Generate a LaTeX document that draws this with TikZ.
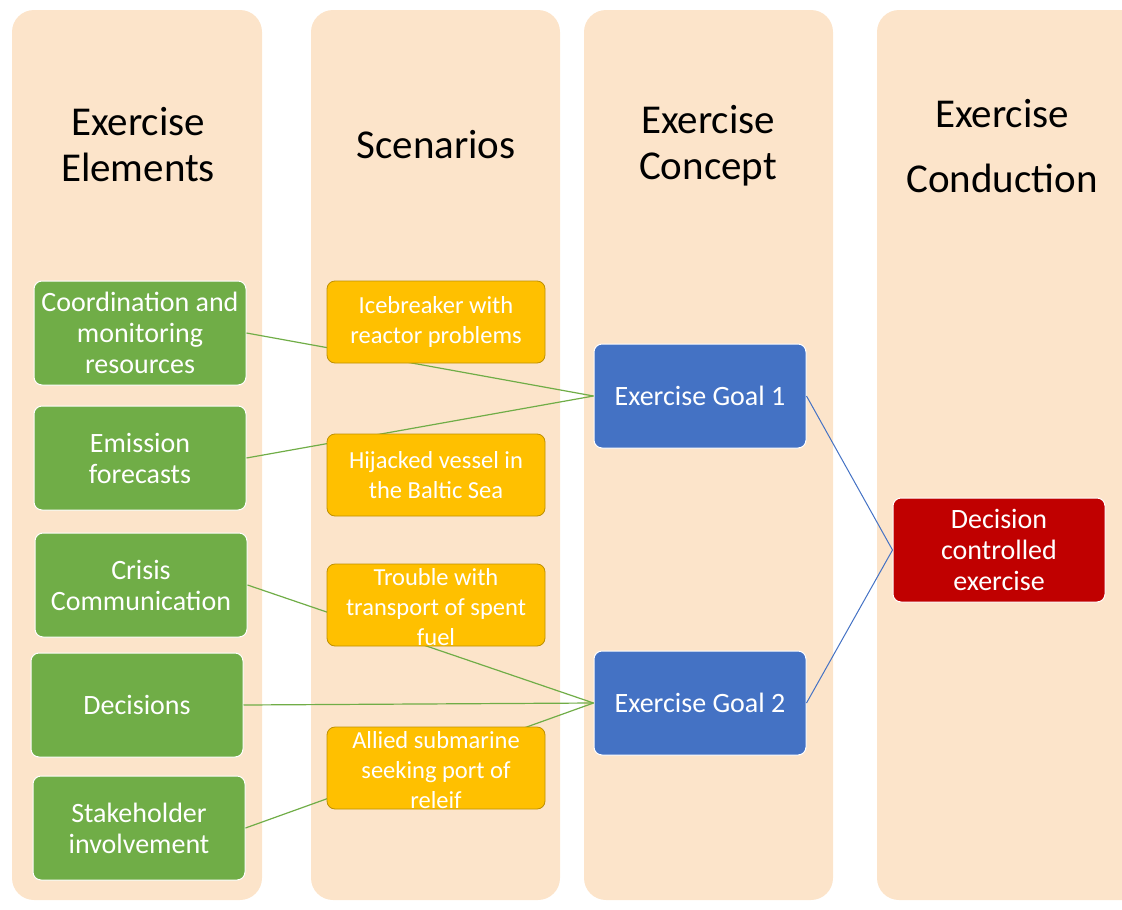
\documentclass[tikz,border=0pt]{standalone}
\usepackage{fontspec}
\setmainfont{Carlito}
\definecolor{colbg}{RGB}{252,228,202}
\definecolor{elemgreen}{RGB}{112,173,71}
\definecolor{scengold}{RGB}{255,192,0}
\definecolor{scenedge}{RGB}{191,144,0}
\definecolor{goalblue}{RGB}{68,114,196}
\definecolor{condred}{RGB}{192,0,0}
\begin{document}
\begin{tikzpicture}[x=1pt,y=-1pt,
  column/.style={fill=colbg, rounded corners=22pt},
  header/.style={font=\fontsize{41}{46}\selectfont, align=center, inner sep=0pt},
  box/.style={rounded corners=8pt, minimum width=212pt, minimum height=104pt,
    inner sep=0pt, text=white, align=center, font=\fontsize{28}{31}\selectfont},
  elem/.style={box, fill=elemgreen, draw=white, line width=1pt},
  scen/.style={rounded corners=8pt, minimum width=218pt, minimum height=82pt,
    inner sep=0pt, fill=scengold, draw=scenedge, line width=0.8pt},
  scentext/.style={text=white, align=center, inner sep=0pt,
    font=\fontsize{24.5}{30}\selectfont},
  goal/.style={box, fill=goalblue, draw=white, line width=1pt},
  result/.style={box, fill=condred, draw=white, line width=1pt},
  elemlink/.style={draw=elemgreen, line width=1.2pt},
  goallink/.style={draw=goalblue, line width=1pt}]

\useasboundingbox (0,0) rectangle (1122,910);
\clip (0,0) rectangle (1122,910);

% four phase columns
\fill[column] (12,10) rectangle (262,900);
\fill[column] (311,10) rectangle (560,900);
\fill[column] (584,10) rectangle (833,900);
\fill[column] (877,10) rectangle (1160,900);

% column headings
\node[header] (h1) at (138,145) {Exercise\\Elements};
\node[header] (h2) at (436,145) {Scenarios};
\node[header] (h3) at (708,146) {Exercise\\Concept};
\node[header, font=\fontsize{41}{65}\selectfont] (h4) at (1002,146) {Exercise\\Conduction};

% exercise elements
\node[elem] (g1) at (140,333) {Coordination and\\monitoring\\resources};
\node[elem] (g2) at (140,458) {Emission\\forecasts};
\node[elem] (g3) at (141,585) {Crisis\\Communication};
\node[elem] (g4) at (137,705) {Decisions};
\node[elem] (g5) at (139,828) {Stakeholder\\involvement};

% exercise goals and conduction
\node[goal] (b1) at (700,396) {Exercise Goal 1};
\node[goal] (b2) at (700,703) {Exercise Goal 2};
\node[result] (r) at (999,550) {Decision\\controlled\\exercise};

% links from elements to goals
\draw[elemlink] (g1.east) -- (b1.west);
\draw[elemlink] (g2.east) -- (b1.west);
\draw[elemlink] (g3.east) -- (b2.west);
\draw[elemlink] (g4.east) -- (b2.west);
\draw[elemlink] (g5.east) -- (b2.west);

% links from goals to the exercise
\draw[goallink] (b1.east) -- (r.west);
\draw[goallink] (b2.east) -- (r.west);

% scenarios, laid over the links
\node[scen] (y1) at (436,322) {};
\node[scentext] (y1t) at (y1.center) {Icebreaker with\\reactor problems};
\node[scen] (y2) at (436,475) {};
\node[scentext] (y2t) at (y2.center) {Hijacked vessel in\\the Baltic Sea};
\node[scen] (y3) at (436,605) {};
\node[scentext] (y3t) at (436,607) {Trouble with\\transport of spent\\fuel};
\node[scen] (y4) at (436,768) {};
\node[scentext] (y4t) at (436,770) {Allied submarine\\seeking port of\\releif};
\end{tikzpicture}
\end{document}
